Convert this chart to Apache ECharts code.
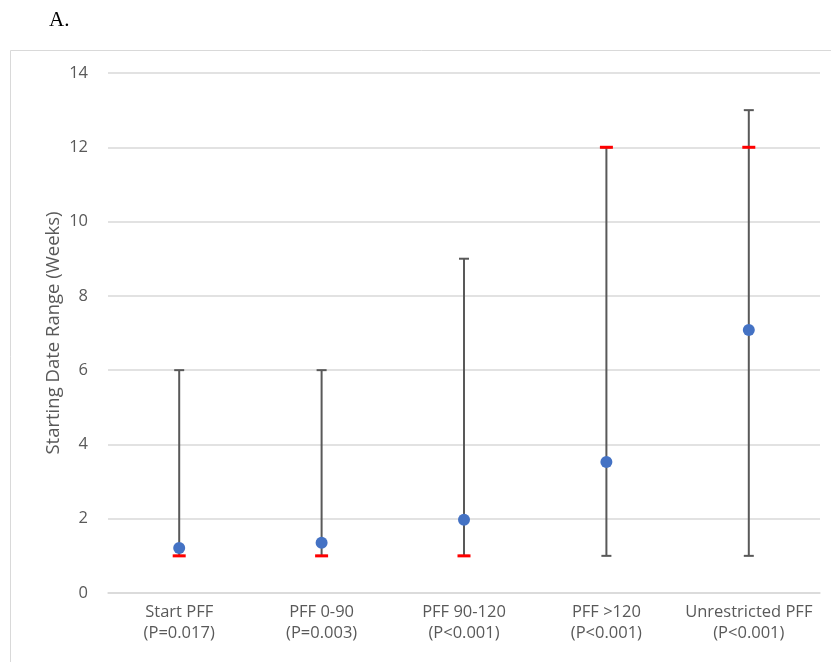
<!DOCTYPE html>
<html>
<head>
<meta charset="utf-8">
<script src="https://cdn.jsdelivr.net/npm/echarts@6/dist/echarts.min.js"></script>
<style>html,body{margin:0;padding:0;background:#fff;}#c{width:831px;height:662px;}</style>
</head>
<body>
<div id="c"></div>
<script>
const categories = ['Start PFF\n(P=0.017)', 'PFF 0-90\n(P=0.003)', 'PFF 90-120\n(P<0.001)', 'PFF >120\n(P<0.001)', 'Unrestricted PFF\n(P<0.001)'];
const rangeMin = [1, 1, 1, 1, 1];
const rangeMax = [6, 6, 9, 12, 13];
const meanValues = [1.21, 1.35, 1.97, 3.53, 7.08];
const redMarks = [1, 1, 1, 12, 12];
const yTicks = [0, 2, 4, 6, 8, 10, 12, 14];

const chart = echarts.init(document.getElementById('c'));
const rangeData = categories.map((c, i) => [i, rangeMin[i], rangeMax[i]]);
chart.setOption({
  animation: false,
  backgroundColor: '#fff',
  graphic: [
    { type: 'rect', shape: { x: 10.5, y: 50.5, width: 900, height: 700 }, style: { fill: 'none', stroke: '#d9d9d9', lineWidth: 1 }, silent: true, z: -10 },
    { type: 'text', left: 49, top: 10, style: { text: 'A.', font: '21px "Liberation Serif"', fill: '#000' } }
  ],
  grid: { left: 108, right: 11, top: 73, bottom: 69 },
  xAxis: {
    type: 'category',
    data: categories,
    axisLine: { show: true, lineStyle: { color: '#d9d9d9', width: 1.5 } },
    axisTick: { show: false },
    axisLabel: { color: '#595959', fontSize: 16.5, fontFamily: 'Open Sans', lineHeight: 21, margin: 9, interval: 0 },
    splitLine: { show: false }
  },
  yAxis: {
    type: 'value',
    min: yTicks[0],
    max: yTicks[yTicks.length - 1],
    interval: 2,
    name: 'Starting Date Range (Weeks)',
    nameLocation: 'middle',
    nameGap: 45,
    nameMoveOverlap: false,
    nameTextStyle: { color: '#595959', fontSize: 18.5, fontFamily: 'Open Sans' },
    axisLine: { show: false },
    axisTick: { show: false },
    axisLabel: { color: '#595959', fontSize: 16.5, fontFamily: 'Open Sans', margin: 20 },
    splitLine: { lineStyle: { color: '#d9d9d9', width: 1.5 } }
  },
  series: [
    {
      type: 'custom',
      data: rangeData,
      encode: { x: 0, y: [1, 2] },
      renderItem: function (params, api) {
        const x = api.value(0);
        const lo = api.coord([x, api.value(1)]);
        const hi = api.coord([x, api.value(2)]);
        const hw = 5;
        const st = { stroke: '#595959', lineWidth: 2 };
        return {
          type: 'group',
          children: [
            { type: 'line', shape: { x1: lo[0], y1: lo[1], x2: hi[0], y2: hi[1] }, style: st },
            { type: 'line', shape: { x1: lo[0] - hw, y1: lo[1], x2: lo[0] + hw, y2: lo[1] }, style: st },
            { type: 'line', shape: { x1: hi[0] - hw, y1: hi[1], x2: hi[0] + hw, y2: hi[1] }, style: st }
          ]
        };
      },
      z: 2
    },
    {
      type: 'scatter',
      data: redMarks.map((v, i) => [i, v]),
      symbol: 'rect',
      symbolSize: [13, 3],
      itemStyle: { color: '#ff0000', opacity: 1 },
      z: 3
    },
    {
      type: 'scatter',
      data: meanValues.map((v, i) => [i, v]),
      symbol: 'circle',
      symbolSize: 12,
      itemStyle: { color: '#4472c4', opacity: 1 },
      z: 4
    }
  ]
});
</script>
</body>
</html>
